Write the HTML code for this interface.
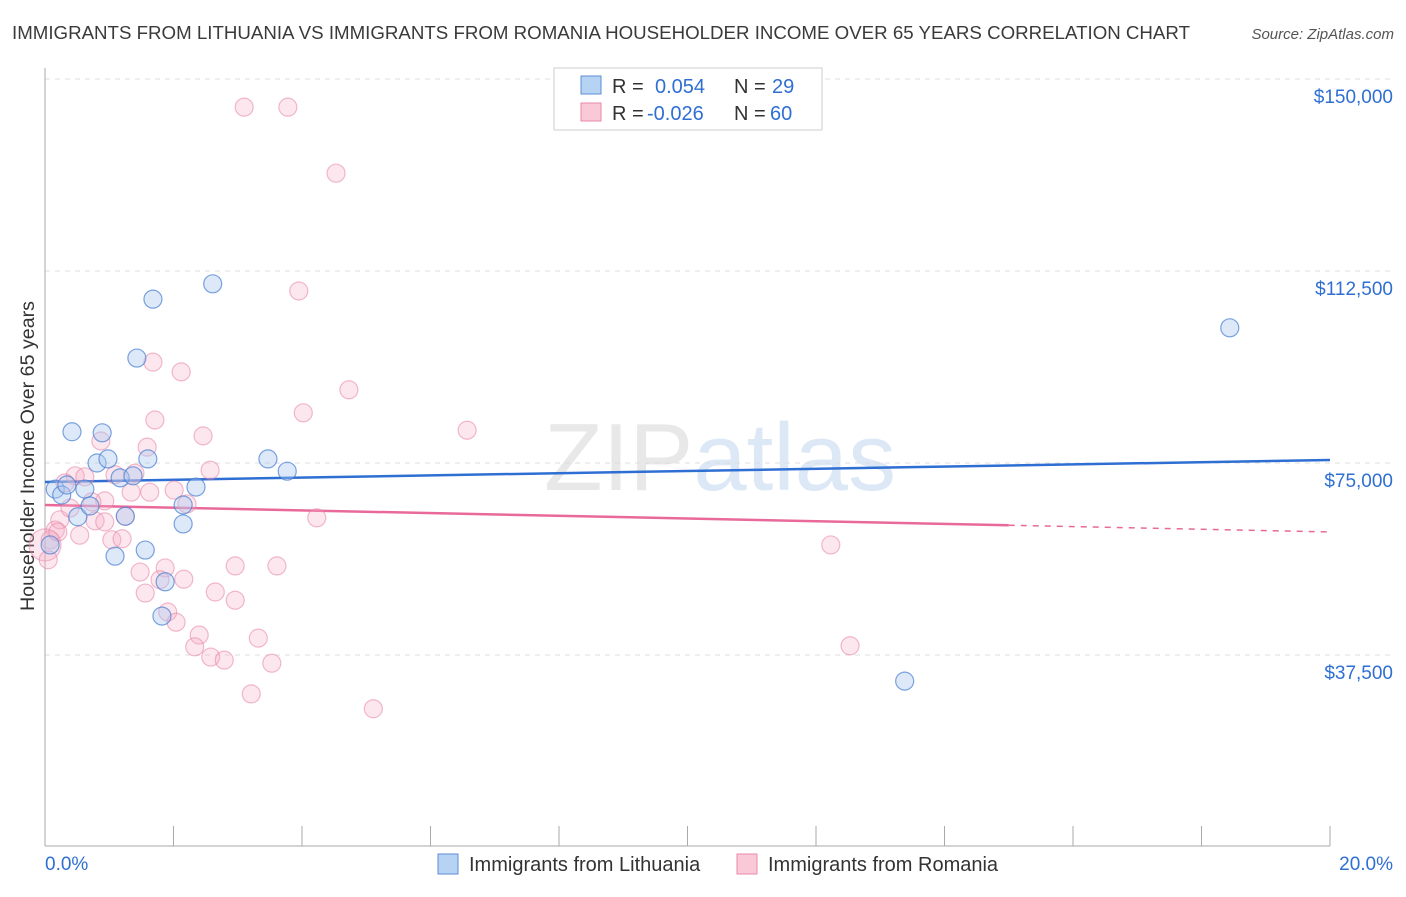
<!DOCTYPE html>
<html><head><meta charset="utf-8"><style>
body{margin:0;background:#fff;font-family:"Liberation Sans",sans-serif}
svg text{font-family:"Liberation Sans",sans-serif}
</style></head><body>
<svg id="chart" width="1406" height="892" xmlns="http://www.w3.org/2000/svg">
<text x="12" y="39" font-size="18.5" fill="#3a3a3a" textLength="1178" lengthAdjust="spacingAndGlyphs">IMMIGRANTS FROM LITHUANIA VS IMMIGRANTS FROM ROMANIA HOUSEHOLDER INCOME OVER 65 YEARS CORRELATION CHART</text>
<text x="1394" y="39" font-size="15" fill="#555" text-anchor="end" font-style="italic">Source: ZipAtlas.com</text>
<text transform="translate(34,456) rotate(-90)" font-size="19" fill="#333" text-anchor="middle" textLength="310" lengthAdjust="spacingAndGlyphs">Householder Income Over 65 years</text>
<text x="720" y="490" font-size="96" fill="#e8e8e8" text-anchor="middle" font-family="Liberation Serif">ZIP<tspan fill="#dce8f6" font-family="Liberation Sans">atlas</tspan></text>
<g id="grid"></g><g id="axes"></g><g id="trend"></g><g id="pts"></g>
<g>
<rect x="554" y="68" width="268" height="62" fill="#fff" stroke="#ccc"/>
<rect x="581" y="76" width="20" height="18" fill="#b7d3f4" stroke="#5b8fd6"/>
<rect x="581" y="103" width="20" height="18" fill="#f9c9d8" stroke="#e88aa8"/>
<text x="612" y="93" font-size="20" fill="#333">R = <tspan fill="#2f6fd3" x="655">0.054</tspan><tspan x="734">N = </tspan><tspan fill="#2f6fd3" x="772">29</tspan></text>
<text x="612" y="120" font-size="20" fill="#333">R = <tspan fill="#2f6fd3" x="647">-0.026</tspan><tspan x="734">N = </tspan><tspan fill="#2f6fd3" x="770">60</tspan></text>
</g>
<g>
<rect x="438" y="854" width="20" height="20" fill="#b7d3f4" stroke="#5b8fd6"/>
<text x="469" y="871" font-size="20" fill="#333">Immigrants from Lithuania</text>
<rect x="737" y="854" width="20" height="20" fill="#f9c9d8" stroke="#e88aa8"/>
<text x="768" y="871" font-size="20" fill="#333">Immigrants from Romania</text>
</g>
</svg>
<script>
const yTicks=[37500,75000,112500,150000];
const yTickLabels=["$37,500","$75,000","$112,500","$150,000"];
const xTickLabels=["0.0%","20.0%"];
const blueX=[0.16,0.26,0.34,0.42,0.62,0.51,0.81,0.89,0.98,0.70,1.17,1.37,1.43,1.56,1.60,1.68,1.87,1.82,2.15,2.15,2.35,2.61,3.47,3.77,18.44,13.38,0.08,1.09,1.25];
const blueY=[69900,68750,70700,81100,69900,64500,75000,80900,75800,66600,72100,72500,95500,58000,75800,107000,51800,45100,66800,63100,70300,110000,75800,73400,101400,32400,59000,56800,64600];
const pinkX=[3.10,3.78,4.53,3.95,1.68,2.12,4.73,4.02,1.71,6.57,0.87,2.46,1.59,2.57,0.47,0.62,1.09,1.40,0.31,0.93,0.73,2.01,2.21,1.34,1.63,4.23,0.78,1.25,0.93,0.23,0.16,0.08,1.04,1.20,1.48,1.87,2.96,3.61,2.16,1.79,1.56,2.65,2.96,1.91,2.04,2.40,3.32,2.33,2.58,2.79,3.53,3.21,5.11,12.23,12.53,0,0.05,0.20,0.39,0.54];
const pinkY=[144500,144500,131600,108600,94700,92800,89300,84800,83400,81400,79300,80300,78100,73600,72500,72300,72700,73000,71100,67600,67400,69700,67000,69300,69300,64300,63700,64600,63500,63900,61900,60000,60000,60200,53700,54500,54900,54900,52300,52200,49600,49800,48200,45900,43900,41400,40800,39100,37100,36500,35900,29900,27000,59000,39300,59000,56100,61500,66200,60900];
const blueTrend=[71289,75586];
const pinkTrend=[66797,61523];
const pinkSolidEnd=15.0;
const NS="http://www.w3.org/2000/svg";
const X=p=>45+p/20*1285;
const Y=v=>79+(150000-v)/37500*192;
function mk(tag,attrs,parent){const e=document.createElementNS(NS,tag);for(const k in attrs)e.setAttribute(k,attrs[k]);document.getElementById(parent).appendChild(e);return e;}
yTicks.forEach((t,i)=>{
  const l=mk('line',{x1:45,x2:1394,y1:Y(t),y2:Y(t),stroke:'#dcdcdc','stroke-dasharray':'5,5'},'grid');
  
  
  const tx=mk('text',{x:1393,y:Y(t)+24,'font-size':19,fill:'#2f6fd3','text-anchor':'end'},'grid');
  tx.textContent=yTickLabels[i];
  
  
});
const ax=mk('line',{x1:45,x2:45,y1:68,y2:846,stroke:'#aaa'},'axes');


const bx=mk('line',{x1:45,x2:1330,y1:846,y2:846,stroke:'#aaa'},'axes');


for(let i=0;i<=10;i++){const t=mk('line',{x1:X(i*2),x2:X(i*2),y1:826,y2:846,stroke:'#aaa'},'axes');
  
  }
const xl0=mk('text',{x:45,y:870,'font-size':19,fill:'#2f6fd3'},'axes');xl0.textContent=xTickLabels[0];


const xl1=mk('text',{x:1393,y:870,'font-size':19,fill:'#2f6fd3','text-anchor':'end'},'axes');xl1.textContent=xTickLabels[1];


const tb=mk('line',{x1:X(0),y1:Y(blueTrend[0]),x2:X(20),y2:Y(blueTrend[1]),stroke:'#2f6fd3','stroke-width':2.5},'trend');


const pAt=x=>pinkTrend[0]+(pinkTrend[1]-pinkTrend[0])*x/20;
const tp=mk('line',{x1:X(0),y1:Y(pAt(0)),x2:X(pinkSolidEnd),y2:Y(pAt(pinkSolidEnd)),stroke:'#e8699a','stroke-width':2.5},'trend');


const td=mk('line',{x1:X(pinkSolidEnd),y1:Y(pAt(pinkSolidEnd)),x2:X(20),y2:Y(pAt(20)),stroke:'#e8699a','stroke-width':1.5,'stroke-dasharray':'6,6'},'trend');


pinkX.forEach((x,i)=>{const c=mk('circle',{cx:X(x),cy:Y(pinkY[i]),r:(i==55?16:9),fill:'rgba(246,175,200,0.3)',stroke:'rgba(232,130,165,0.55)','stroke-width':1.2},'pts');
  
  });
blueX.forEach((x,i)=>{const c=mk('circle',{cx:X(x),cy:Y(blueY[i]),r:9,fill:'rgba(170,200,240,0.4)',stroke:'rgba(70,125,210,0.7)','stroke-width':1.2},'pts');
  
  });
</script>
</body></html>
